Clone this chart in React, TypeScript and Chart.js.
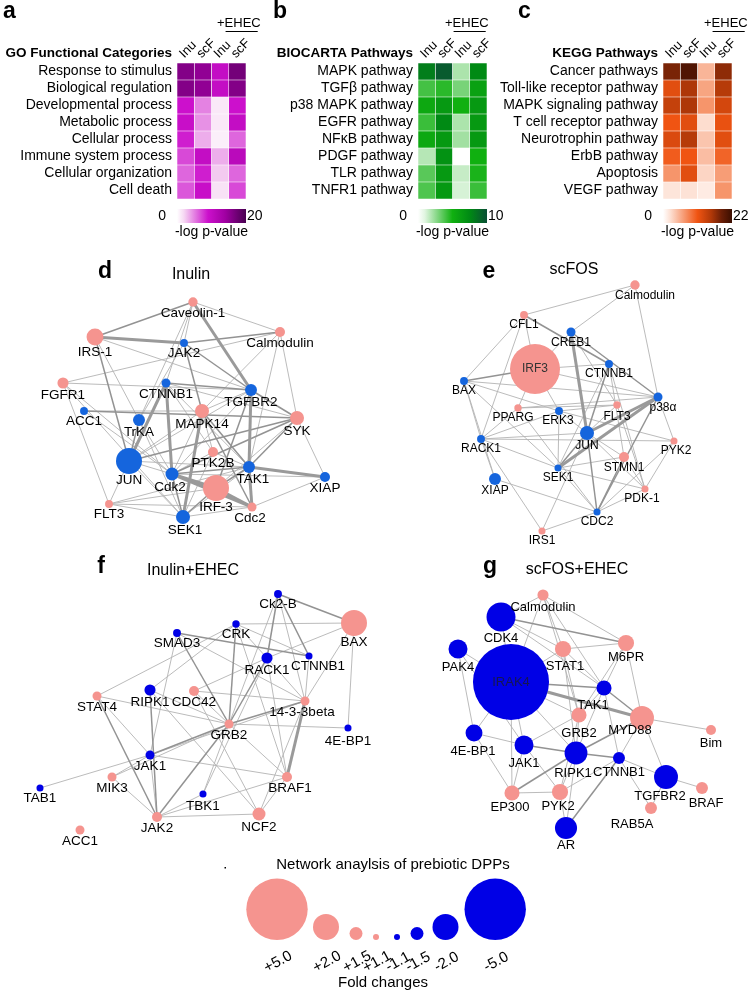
import React, { useEffect, useRef } from 'react';
import { Chart, registerables } from 'chart.js';

Chart.register(...registerables);

const FONT = "'Liberation Sans', Arial, Helvetica, sans-serif";
const PINK = '#f5948f';
const BLUE_LIGHT = '#1565dd';
const BLUE_DEEP = '#0000e6';

// ---------------- Heatmap data (-log p-value) ----------------
const heatColumns = ['Inu', 'scF', 'Inu', 'scF'];

const goCategories = ['Response to stimulus', 'Biological regulation', 'Developmental process', 'Metabolic process', 'Cellular process', 'Immune system process', 'Cellular organization', 'Cell death'];
const goInulin = [16, 16, 9, 9.5, 8.5, 7, 6, 6.5];
const goScFOS = [15, 15, 5, 4.5, 3.5, 10, 8.5, 9.5];
const goInulinEHEC = [10, 10, 1.2, 1.2, 0.8, 3.5, 2.5, 1.5];
const goScFOSEHEC = [17, 16, 9, 10, 6, 11, 6, 7];

const biocartaPathways = ['MAPK pathway', 'TGFβ pathway', 'p38 MAPK pathway', 'EGFR pathway', 'NFκB pathway', 'PDGF pathway', 'TLR pathway', 'TNFR1 pathway'];
const bioInulin = [8, 4, 5.5, 4.2, 5.5, 1.8, 3.6, 3.8];
const bioScFOS = [9.5, 4.5, 6.5, 7.5, 6.5, 7, 6.5, 6.5];
const bioInulinEHEC = [2, 3, 5, 2, 2.2, 0, 1.5, 1.2];
const bioScFOSEHEC = [7.5, 6, 6.5, 6.5, 6.5, 5, 4.8, 4.2];

const keggPathways = ['Cancer pathways', 'Toll-like receptor pathway', 'MAPK signaling pathway', 'T cell receptor pathway', 'Neurotrophin pathway', 'ErbB pathway', 'Apoptosis', 'VEGF pathway'];
const keggInulin = [18, 12, 14, 11, 12.5, 10.5, 7, 2];
const keggScFOS = [20.5, 15.5, 15.5, 12, 15, 11, 12, 2.2];
const keggInulinEHEC = [5, 6, 7, 2.5, 4, 4.5, 3, 1.5];
const keggScFOSEHEC = [17, 15, 13, 11.5, 12, 10, 6.5, 7];

const goMax = 20;
const bioMax = 10;
const keggMax = 22;

const magentaStops: [number, string][] = [[0, '#ffffff'], [0.1, '#f6d8f3'], [0.45, '#cc10cc'], [0.7, '#a000a2'], [1, '#480050']];
const greenStops: [number, string][] = [[0, '#ffffff'], [0.1, '#e0f5e0'], [0.5, '#10b010'], [0.75, '#008a14'], [1, '#0a4f35']];
const orangeStops: [number, string][] = [[0, '#ffffff'], [0.1, '#fde2d6'], [0.5, '#f05412'], [0.7, '#b03808'], [0.85, '#6a1e06'], [1, '#3a0e00']];

// ---------------- Network data: [name, layout x, layout y, fold change] ----------------
type NodeT = [string, number, number, number];
type EdgeT = [string, string, number];

const inulinNodes: NodeT[] = [
  ['Caveolin-1', 193, 52, 1.29], ['IRS-1', 95, 87, 1.65], ['JAK2', 184, 93, -1.21], ['Calmodulin', 280, 82, 1.33],
  ['FGFR1', 63, 133, 1.39], ['CTNNB1', 166, 133, -1.27], ['TGFBR2', 251, 140, -1.44], ['ACC1', 84, 161, -1.21],
  ['MAPK14', 202, 161, 1.54], ['TrKA', 139, 170, -1.44], ['SYK', 297, 168, 1.54], ['JUN', 129, 211, -2.0],
  ['PTK2B', 213, 202, 1.33], ['Cdk2', 172, 224, -1.5], ['TAK1', 249, 217, -1.44], ['IRF-3', 216, 238, 2.0],
  ['XIAP', 325, 227, -1.33], ['FLT3', 109, 254, 1.21], ['SEK1', 183, 267, -1.54], ['Cdc2', 252, 257, 1.27],
];
const inulinEdges: EdgeT[] = [
  ['Caveolin-1', 'IRS-1', 2], ['Caveolin-1', 'Calmodulin', 1], ['Caveolin-1', 'TGFBR2', 3], ['Caveolin-1', 'JAK2', 1],
  ['Caveolin-1', 'CTNNB1', 1], ['Caveolin-1', 'TrKA', 1], ['IRS-1', 'JAK2', 3], ['JAK2', 'Calmodulin', 2],
  ['IRS-1', 'JUN', 2], ['IRS-1', 'TGFBR2', 1], ['IRS-1', 'TrKA', 1], ['JAK2', 'TGFBR2', 2], ['JAK2', 'MAPK14', 2],
  ['JAK2', 'TrKA', 1], ['Calmodulin', 'SYK', 1], ['Calmodulin', 'TAK1', 1], ['Calmodulin', 'MAPK14', 1],
  ['FGFR1', 'Calmodulin', 1], ['FGFR1', 'TGFBR2', 1], ['FGFR1', 'SEK1', 1], ['FGFR1', 'FLT3', 1], ['FGFR1', 'Cdk2', 1],
  ['CTNNB1', 'TGFBR2', 2], ['CTNNB1', 'JUN', 3], ['CTNNB1', 'Cdk2', 3], ['CTNNB1', 'PTK2B', 1], ['CTNNB1', 'TAK1', 1],
  ['CTNNB1', 'SYK', 1], ['ACC1', 'MAPK14', 1], ['ACC1', 'SYK', 2], ['ACC1', 'Cdk2', 1], ['TGFBR2', 'TAK1', 3],
  ['TGFBR2', 'SYK', 2], ['TGFBR2', 'MAPK14', 1], ['TGFBR2', 'Cdk2', 1], ['TGFBR2', 'JUN', 1], ['TGFBR2', 'IRF-3', 2],
  ['MAPK14', 'SEK1', 3], ['MAPK14', 'JUN', 1], ['MAPK14', 'TAK1', 2], ['MAPK14', 'Cdc2', 2], ['MAPK14', 'Cdk2', 1],
  ['MAPK14', 'PTK2B', 1], ['SYK', 'JUN', 2], ['SYK', 'Cdk2', 2], ['SYK', 'XIAP', 1], ['SYK', 'TAK1', 2], ['SYK', 'IRF-3', 1],
  ['TrKA', 'JUN', 2], ['TrKA', 'SEK1', 1], ['TrKA', 'Cdk2', 1], ['JUN', 'Cdk2', 1], ['JUN', 'FLT3', 1], ['JUN', 'TAK1', 1],
  ['JUN', 'SEK1', 1], ['PTK2B', 'Cdk2', 1], ['PTK2B', 'TAK1', 1], ['PTK2B', 'SEK1', 1], ['Cdk2', 'IRF-3', 3],
  ['Cdk2', 'Cdc2', 3], ['Cdk2', 'TAK1', 2], ['Cdk2', 'SEK1', 2], ['Cdk2', 'XIAP', 1], ['TAK1', 'XIAP', 3],
  ['TAK1', 'IRF-3', 2], ['TAK1', 'Cdc2', 3], ['TAK1', 'SEK1', 1], ['IRF-3', 'SEK1', 2], ['IRF-3', 'Cdc2', 3],
  ['IRF-3', 'FLT3', 1], ['XIAP', 'Cdc2', 1], ['FLT3', 'SEK1', 1], ['FLT3', 'Cdc2', 1], ['FLT3', 'TAK1', 1], ['SEK1', 'Cdc2', 1],
];

const scfosNodes: NodeT[] = [
  ['Calmodulin', 260, 35, 1.29], ['CFL1', 149, 65, 1.21], ['CREB1', 196, 82, -1.27], ['IRF3', 160, 119, 4.03],
  ['CTNNB1', 234, 114, -1.21], ['BAX', 89, 131, -1.21], ['p38α', 283, 147, -1.27], ['PPARG', 143, 158, 1.18],
  ['FLT3', 242, 155, 1.18], ['ERK3', 184, 161, -1.21], ['JUN', 212, 183, -1.54], ['RACK1', 106, 189, -1.21],
  ['PYK2', 299, 191, 1.16], ['STMN1', 249, 207, 1.33], ['SEK1', 183, 218, -1.16], ['XIAP', 120, 229, -1.44],
  ['PDK-1', 270, 239, 1.16], ['CDC2', 222, 262, -1.16], ['IRS1', 167, 281, 1.16],
];
const scfosEdges: EdgeT[] = [
  ['Calmodulin', 'CFL1', 1], ['Calmodulin', 'CREB1', 1], ['Calmodulin', 'p38α', 1], ['CFL1', 'IRF3', 1],
  ['CFL1', 'CTNNB1', 2], ['CFL1', 'BAX', 1], ['CFL1', 'RACK1', 1], ['CREB1', 'JUN', 3], ['CREB1', 'IRF3', 1],
  ['CREB1', 'p38α', 2], ['CREB1', 'FLT3', 1], ['IRF3', 'BAX', 2], ['IRF3', 'CTNNB1', 1], ['IRF3', 'ERK3', 1],
  ['IRF3', 'PPARG', 1], ['IRF3', 'p38α', 1], ['CTNNB1', 'JUN', 2], ['CTNNB1', 'STMN1', 1], ['CTNNB1', 'PDK-1', 1],
  ['CTNNB1', 'SEK1', 1], ['BAX', 'RACK1', 1], ['BAX', 'XIAP', 1], ['BAX', 'p38α', 1], ['BAX', 'SEK1', 1], ['BAX', 'ERK3', 1],
  ['p38α', 'JUN', 3], ['p38α', 'SEK1', 3], ['p38α', 'PPARG', 1], ['p38α', 'CDC2', 2], ['p38α', 'PYK2', 1],
  ['PPARG', 'FLT3', 1], ['PPARG', 'RACK1', 1], ['PPARG', 'CDC2', 1], ['FLT3', 'JUN', 1], ['FLT3', 'PDK-1', 1],
  ['FLT3', 'ERK3', 1], ['ERK3', 'JUN', 1], ['ERK3', 'SEK1', 1], ['ERK3', 'RACK1', 1], ['ERK3', 'PYK2', 1],
  ['JUN', 'SEK1', 2], ['JUN', 'CDC2', 2], ['JUN', 'STMN1', 1], ['JUN', 'RACK1', 1], ['JUN', 'PDK-1', 1], ['JUN', 'IRS1', 1],
  ['RACK1', 'XIAP', 1], ['RACK1', 'SEK1', 1], ['RACK1', 'IRS1', 1], ['RACK1', 'PYK2', 1], ['STMN1', 'PDK-1', 1],
  ['STMN1', 'SEK1', 1], ['STMN1', 'CDC2', 2], ['SEK1', 'CDC2', 1], ['SEK1', 'PDK-1', 1], ['XIAP', 'CDC2', 1],
  ['PYK2', 'PDK-1', 1], ['PYK2', 'CDC2', 1], ['PDK-1', 'CDC2', 1], ['CDC2', 'IRS1', 1],
];

const inulinEhecNodes: NodeT[] = [
  ['Ck2-B', 278, 44, -1.21], ['CRK', 236, 74, -1.18], ['BAX', 354, 73, 2.0], ['SMAD3', 177, 83, -1.21],
  ['RACK1', 267, 108, -1.39], ['CTNNB1', 309, 106, -1.16], ['RIPK1', 150, 140, -1.39], ['CDC42', 194, 141, 1.33],
  ['STAT4', 97, 146, 1.27], ['14-3-3beta', 305, 151, 1.27], ['GRB2', 229, 174, 1.27], ['4E-BP1', 348, 178, -1.16],
  ['JAK1', 150, 205, -1.27], ['MIK3', 112, 227, 1.27], ['BRAF1', 287, 227, 1.33], ['TBK1', 203, 244, -1.16],
  ['TAB1', 40, 238, -1.16], ['JAK2', 157, 267, 1.33], ['NCF2', 259, 264, 1.5], ['ACC1', 80, 280, 1.27],
];
const inulinEhecEdges: EdgeT[] = [
  ['Ck2-B', 'BAX', 2], ['Ck2-B', 'RACK1', 2], ['Ck2-B', 'CTNNB1', 2], ['Ck2-B', 'GRB2', 1], ['Ck2-B', '14-3-3beta', 1],
  ['CRK', 'BAX', 1], ['CRK', 'GRB2', 2], ['CRK', 'RACK1', 1], ['CRK', 'CTNNB1', 1], ['CRK', 'BRAF1', 1], ['CRK', 'RIPK1', 1],
  ['SMAD3', 'CTNNB1', 2], ['SMAD3', '14-3-3beta', 1], ['SMAD3', 'GRB2', 2], ['SMAD3', 'JAK1', 1],
  ['BAX', '14-3-3beta', 1], ['BAX', '4E-BP1', 1], ['BAX', 'RACK1', 1], ['RACK1', 'GRB2', 2], ['RACK1', '14-3-3beta', 1],
  ['RACK1', 'CDC42', 1], ['RACK1', 'TBK1', 1], ['RACK1', 'BRAF1', 1], ['CTNNB1', '14-3-3beta', 1],
  ['RIPK1', 'GRB2', 1], ['RIPK1', 'JAK2', 2], ['RIPK1', 'NCF2', 1], ['CDC42', 'GRB2', 1], ['CDC42', '14-3-3beta', 1],
  ['CDC42', 'NCF2', 1], ['STAT4', 'CRK', 1], ['STAT4', 'GRB2', 1], ['STAT4', 'JAK2', 2], ['STAT4', 'JAK1', 1],
  ['14-3-3beta', 'GRB2', 2], ['14-3-3beta', 'BRAF1', 3], ['14-3-3beta', 'JAK1', 1], ['14-3-3beta', 'NCF2', 1],
  ['GRB2', 'JAK1', 2], ['GRB2', 'JAK2', 2], ['GRB2', 'TBK1', 1], ['GRB2', 'BRAF1', 1], ['GRB2', 'MIK3', 1], ['GRB2', '4E-BP1', 1],
  ['JAK1', 'MIK3', 1], ['JAK1', 'TAB1', 1], ['JAK1', 'JAK2', 1], ['JAK1', 'BRAF1', 1], ['MIK3', 'JAK2', 1],
  ['BRAF1', 'JAK2', 1], ['BRAF1', 'NCF2', 1], ['TBK1', 'JAK2', 1], ['JAK2', 'NCF2', 1],
];

const scfosEhecNodes: NodeT[] = [
  ['Calmodulin', 168, 45, 1.39], ['CDK4', 126, 67, -2.25], ['PAK4', 83, 99, -1.73], ['M6PR', 251, 93, 1.62],
  ['STAT1', 188, 99, 1.62], ['IRAK4', 136, 132, -6.24], ['TAK1', 229, 138, -1.58], ['MYD88', 267, 168, 1.92],
  ['GRB2', 204, 165, 1.58], ['4E-BP1', 99, 183, -1.65], ['JAK1', 149, 195, -1.73], ['RIPK1', 201, 203, -1.88],
  ['CTNNB1', 244, 208, -1.44], ['TGFBR2', 291, 227, -1.92], ['Bim', 336, 180, 1.33], ['BRAF', 327, 238, 1.44],
  ['EP300', 137, 243, 1.58], ['PYK2', 185, 242, 1.62], ['RAB5A', 276, 258, 1.44], ['AR', 191, 278, -1.85],
];
const scfosEhecEdges: EdgeT[] = [
  ['Calmodulin', 'STAT1', 1], ['Calmodulin', 'TAK1', 1], ['Calmodulin', 'GRB2', 1], ['Calmodulin', 'CDK4', 1],
  ['Calmodulin', 'IRAK4', 1], ['Calmodulin', 'M6PR', 1], ['CDK4', 'M6PR', 2], ['CDK4', 'STAT1', 1], ['CDK4', 'IRAK4', 1],
  ['CDK4', 'TAK1', 1], ['PAK4', 'IRAK4', 1], ['PAK4', '4E-BP1', 1], ['PAK4', 'JAK1', 1], ['M6PR', 'TAK1', 1],
  ['M6PR', 'MYD88', 1], ['M6PR', 'STAT1', 1], ['M6PR', 'GRB2', 1], ['STAT1', 'TAK1', 1], ['STAT1', 'GRB2', 1],
  ['STAT1', 'IRAK4', 1], ['STAT1', 'RIPK1', 1], ['IRAK4', 'TAK1', 2], ['IRAK4', 'MYD88', 3], ['IRAK4', 'GRB2', 1],
  ['IRAK4', 'JAK1', 1], ['IRAK4', '4E-BP1', 1], ['IRAK4', 'RIPK1', 1], ['IRAK4', 'EP300', 1], ['TAK1', 'MYD88', 2],
  ['TAK1', 'GRB2', 1], ['TAK1', 'CTNNB1', 1], ['TAK1', 'RIPK1', 1], ['MYD88', 'RIPK1', 2], ['MYD88', 'CTNNB1', 1],
  ['MYD88', 'TGFBR2', 1], ['MYD88', 'Bim', 1], ['GRB2', 'JAK1', 1], ['GRB2', 'RIPK1', 1], ['GRB2', 'PYK2', 1],
  ['4E-BP1', 'JAK1', 1], ['4E-BP1', 'EP300', 1], ['JAK1', 'RIPK1', 2], ['JAK1', 'EP300', 1], ['JAK1', 'PYK2', 1],
  ['RIPK1', 'CTNNB1', 2], ['RIPK1', 'EP300', 2], ['RIPK1', 'PYK2', 1], ['RIPK1', 'AR', 1], ['CTNNB1', 'TGFBR2', 1],
  ['CTNNB1', 'PYK2', 1], ['CTNNB1', 'AR', 2], ['CTNNB1', 'RAB5A', 1], ['TGFBR2', 'BRAF', 1], ['TGFBR2', 'RAB5A', 1],
  ['EP300', 'PYK2', 1], ['PYK2', 'AR', 1],
];

// ---------------- Legend data ----------------
const legendFold = [5, 2, 1.5, 1.1, -1.1, -1.5, -2, -5];

// radius scale (fold-change magnitude -> node radius in px), as keyed in the legend
const sizeKeyFold = [1.1, 1.5, 2, 5];
const sizeKeyRadius = [3, 6.5, 13, 30.7];

function radiusFor(fc: number) {
  const a = Math.abs(fc);
  if (a <= sizeKeyFold[0]) return sizeKeyRadius[0] * a / sizeKeyFold[0];
  for (let i = 1; i < sizeKeyFold.length; i++) {
    if (a <= sizeKeyFold[i] || i === sizeKeyFold.length - 1) {
      const f = (a - sizeKeyFold[i - 1]) / (sizeKeyFold[i] - sizeKeyFold[i - 1]);
      return sizeKeyRadius[i - 1] + f * (sizeKeyRadius[i] - sizeKeyRadius[i - 1]);
    }
  }
  return sizeKeyRadius[sizeKeyRadius.length - 1];
}

function hexRgb(h: string) {
  const n = parseInt(h.slice(1), 16);
  return [(n >> 16) & 255, (n >> 8) & 255, n & 255];
}
function colorAt(stops: [number, string][], t: number) {
  t = Math.max(0, Math.min(1, t));
  for (let i = 1; i < stops.length; i++) {
    if (t <= stops[i][0]) {
      const [t0, c0] = stops[i - 1];
      const [t1, c1] = stops[i];
      const f = (t - t0) / (t1 - t0 || 1);
      const a = hexRgb(c0), b = hexRgb(c1);
      return `rgb(${Math.round(a[0] + (b[0] - a[0]) * f)},${Math.round(a[1] + (b[1] - a[1]) * f)},${Math.round(a[2] + (b[2] - a[2]) * f)})`;
    }
  }
  return stops[stops.length - 1][1];
}

function drawText(ctx: any, s: string, x: number, y: number, font: string, align = 'center', baseline = 'middle', color = '#000') {
  ctx.save();
  ctx.font = font;
  ctx.textAlign = align;
  ctx.textBaseline = baseline;
  ctx.fillStyle = color;
  ctx.fillText(s, x, y);
  ctx.restore();
}

// ---------------- Heatmap component ----------------
function Heatmap(p: any) {
  const ref = useRef<HTMLCanvasElement>(null);
  useEffect(() => {
    const canvas = ref.current!;
    const plugin = {
      id: 'heatText' + p.letter,
      afterDraw(chart: any) {
        const { ctx, chartArea: ca, scales } = chart;
        const xs = scales.x, ys = scales.y;
        drawText(ctx, p.letter, p.letterX, 18, `bold 23px ${FONT}`, 'left', 'alphabetic');
        drawText(ctx, p.title, ca.left - 5, 56.5, `bold 13.5px ${FONT}`, 'right', 'alphabetic');
        p.rows.forEach((r: string, i: number) => {
          drawText(ctx, r, ca.left - 5, ys.getPixelForValue(i), `14px ${FONT}`, 'right', 'middle');
        });
        heatColumns.forEach((c, j) => {
          const cx = xs.getPixelForValue(j + 0.5);
          ctx.save();
          ctx.translate(cx - 4, ca.top - 7);
          ctx.rotate(-Math.PI / 4);
          ctx.font = `13px ${FONT}`;
          ctx.textAlign = 'left';
          ctx.textBaseline = 'middle';
          ctx.fillStyle = '#000';
          ctx.fillText(c, 0, 0);
          ctx.restore();
        });
        // +EHEC with underline
        ctx.save();
        ctx.font = `13px ${FONT}`;
        const ex = p.ehecX;
        drawText(ctx, '+EHEC', ex, 27, `13px ${FONT}`, 'left', 'alphabetic');
        const pw = ctx.measureText('+').width;
        const tw = ctx.measureText('+EHEC').width;
        ctx.strokeStyle = '#000';
        ctx.lineWidth = 1;
        ctx.beginPath();
        ctx.moveTo(ex + pw + 1, 31.5);
        ctx.lineTo(ex + tw - 3, 31.5);
        ctx.stroke();
        ctx.restore();
        // colour bar
        const cbTop = 209, cbH = 14;
        const g = ctx.createLinearGradient(ca.left, 0, ca.right, 0);
        p.stops.forEach(([t, c]: [number, string]) => g.addColorStop(t, c));
        ctx.save();
        ctx.fillStyle = g;
        ctx.fillRect(ca.left, cbTop, ca.right - ca.left, cbH);
        ctx.restore();
        drawText(ctx, '0', ca.left - 11, cbTop + cbH / 2, `14px ${FONT}`, 'right', 'middle');
        drawText(ctx, String(p.max), ca.right + 1, cbTop + cbH / 2, `14px ${FONT}`, 'left', 'middle');
        drawText(ctx, '-log p-value', (ca.left + ca.right) / 2, 232, `14px ${FONT}`, 'center', 'middle');
      },
    };
    const chart = new Chart(canvas, {
      type: 'bar',
      data: {
        labels: p.rows,
        datasets: p.columns.map((vals: number[], j: number) => ({
          data: p.rows.map(() => [j, j + 1]),
          backgroundColor: vals.map((v) => colorAt(p.stops, v / p.max)),
          borderColor: 'rgba(255,255,255,0.85)',
          borderWidth: 0.6,
          borderSkipped: false,
          barPercentage: 1,
          categoryPercentage: 1,
          grouped: false,
        })),
      },
      options: {
        indexAxis: 'y',
        animation: false,
        responsive: false,
        events: [],
        layout: { autoPadding: false, padding: { left: p.padLeft, right: p.width - p.padLeft - p.cellsWidth, top: 63, bottom: p.height - 199 } },
        scales: {
          x: { type: 'linear', display: false, min: 0, max: 4 },
          y: { type: 'category', display: false },
        },
        plugins: { legend: { display: false }, tooltip: { enabled: false } },
      } as any,
      plugins: [plugin],
    } as any);
    return () => chart.destroy();
  }, []);
  return (
    <canvas ref={ref} width={p.width} height={p.height}
      style={{ position: 'absolute', left: p.left, top: p.top, width: p.width, height: p.height }} />
  );
}

// ---------------- Network component ----------------
function edgeWidth(w: number) { return w === 3 ? 3 : w === 2 ? 1.5 : 0.9; }
function edgeColor(w: number) { return w === 3 ? '#9a9a9a' : w === 2 ? '#939393' : '#b3b3b3'; }

function Network(p: any) {
  const ref = useRef<HTMLCanvasElement>(null);
  useEffect(() => {
    const canvas = ref.current!;
    const byName = new Map<string, NodeT>(p.nodes.map((n: NodeT) => [n[0], n]));
    const edgeSets = p.edges.map(([a, b, w]: EdgeT) => {
      const na = byName.get(a)!, nb = byName.get(b)!;
      return {
        data: [{ x: na[1], y: na[2] }, { x: nb[1], y: nb[2] }],
        showLine: true,
        borderColor: edgeColor(w),
        borderWidth: edgeWidth(w),
        pointRadius: 0,
        clip: false,
        order: 4 - w,
      };
    });
    const nodeSet = {
      data: p.nodes.map((n: NodeT) => ({ x: n[1], y: n[2] })),
      pointRadius: p.nodes.map((n: NodeT) => radiusFor(n[3])),
      pointBackgroundColor: p.nodes.map((n: NodeT) => (n[3] > 0 ? PINK : p.blue)),
      pointBorderWidth: 0,
      showLine: false,
      clip: false,
      order: 0,
    };
    const plugin = {
      id: 'netText',
      afterDatasetsDraw(chart: any) {
        const { ctx, scales } = chart;
        p.nodes.forEach((n: NodeT) => {
          const px = scales.x.getPixelForValue(n[1]);
          const py = scales.y.getPixelForValue(n[2]);
          const r = radiusFor(n[3]);
          if (r > 20) {
            drawText(ctx, n[0], px, py, `${p.fontSize}px ${FONT}`, 'center', 'middle', p.innerColor);
          } else {
            const nd = (p.nudge && p.nudge[n[0]]) || [0, 0];
            drawText(ctx, n[0], px + nd[0], py + r + p.labelGap + nd[1], `${p.fontSize}px ${FONT}`, 'center', 'middle');
          }
        });
        drawText(ctx, p.letter, p.letterPos[0], p.letterPos[1], `bold 23px ${FONT}`, 'center', 'alphabetic');
        drawText(ctx, p.title, p.titlePos[0], p.titlePos[1], `16px ${FONT}`, 'center', 'alphabetic');
      },
    };
    const chart = new Chart(canvas, {
      type: 'scatter',
      data: { datasets: [nodeSet, ...edgeSets] },
      options: {
        animation: false,
        responsive: false,
        events: [],
        layout: { autoPadding: false, padding: 0 },
        scales: {
          x: { type: 'linear', display: false, min: 0, max: p.width },
          y: { type: 'linear', display: false, min: 0, max: p.height, reverse: true },
        },
        plugins: { legend: { display: false }, tooltip: { enabled: false } },
      } as any,
      plugins: [plugin],
    } as any);
    return () => chart.destroy();
  }, []);
  return (
    <canvas ref={ref} width={p.width} height={p.height}
      style={{ position: 'absolute', left: p.left, top: p.top, width: p.width, height: p.height }} />
  );
}

// ---------------- Size legend ----------------
function SizeLegend() {
  const ref = useRef<HTMLCanvasElement>(null);
  useEffect(() => {
    const canvas = ref.current!;
    const W = 751, H = 152;
    const gaps = [5.3, 10.5, 10.5, 15, 10.5, 9, 6];
    const radii = legendFold.map(radiusFor);
    const xs: number[] = [];
    radii.forEach((r, i) => {
      if (i === 0) xs.push(277);
      else xs.push(xs[i - 1] + radii[i - 1] + gaps[i - 1] + r);
    });
    const baseLine = 100;
    const labels = legendFold.map((v) => (v > 0 ? '+' : '') + v.toFixed(1));
    const plugin = {
      id: 'legendText',
      afterDatasetsDraw(chart: any) {
        const { ctx, scales } = chart;
        drawText(ctx, 'Network anaylsis of prebiotic DPPs', 393, 25, `15px ${FONT}`, 'center', 'middle');
        ctx.save();
        ctx.fillStyle = '#000';
        ctx.fillRect(224.5, 27, 1.5, 1.5);
        ctx.restore();
        labels.forEach((l, i) => {
          const px = scales.x.getPixelForValue(xs[i]);
          ctx.save();
          ctx.translate(px + 1, 122);
          ctx.rotate(-Math.PI / 6.3);
          ctx.font = `15px ${FONT}`;
          ctx.textAlign = 'center';
          ctx.textBaseline = 'middle';
          ctx.fillStyle = '#000';
          ctx.fillText(l, 0, 0);
          ctx.restore();
        });
        drawText(ctx, 'Fold changes', 383, 143, `15px ${FONT}`, 'center', 'middle');
      },
    };
    const chart = new Chart(canvas, {
      type: 'scatter',
      data: {
        datasets: [{
          data: legendFold.map((v, i) => ({ x: xs[i], y: baseLine - radii[i] })),
          pointRadius: radii,
          pointBackgroundColor: legendFold.map((v) => (v > 0 ? PINK : BLUE_DEEP)),
          pointBorderWidth: 0,
          clip: false,
        }],
      },
      options: {
        animation: false,
        responsive: false,
        events: [],
        layout: { autoPadding: false, padding: 0 },
        scales: {
          x: { type: 'linear', display: false, min: 0, max: W },
          y: { type: 'linear', display: false, min: 0, max: H, reverse: true },
        },
        plugins: { legend: { display: false }, tooltip: { enabled: false } },
      } as any,
      plugins: [plugin],
    } as any);
    return () => chart.destroy();
  }, []);
  return (
    <canvas ref={ref} width={751} height={152}
      style={{ position: 'absolute', left: 0, top: 840, width: 751, height: 152 }} />
  );
}

export default function App() {
  return (
    <div style={{ position: 'absolute', left: 0, top: 0, width: 751, height: 992, background: '#fff', overflow: 'hidden' }}>
      <Heatmap left={0} top={0} width={270} height={245} padLeft={177} cellsWidth={69}
        letter="a" letterX={3} title="GO Functional Categories" rows={goCategories}
        columns={[goInulin, goScFOS, goInulinEHEC, goScFOSEHEC]} max={goMax} stops={magentaStops} ehecX={217} />
      <Heatmap left={250} top={0} width={270} height={245} padLeft={168} cellsWidth={69}
        letter="b" letterX={23} title="BIOCARTA Pathways" rows={biocartaPathways}
        columns={[bioInulin, bioScFOS, bioInulinEHEC, bioScFOSEHEC]} max={bioMax} stops={greenStops} ehecX={195} />
      <Heatmap left={500} top={0} width={251} height={245} padLeft={163} cellsWidth={69}
        letter="c" letterX={18} title="KEGG Pathways" rows={keggPathways}
        columns={[keggInulin, keggScFOS, keggInulinEHEC, keggScFOSEHEC]} max={keggMax} stops={orangeStops} ehecX={204} />

      <Network left={0} top={250} width={375} height={300} nodes={inulinNodes} edges={inulinEdges}
        letter="d" letterPos={[105, 28]} title="Inulin" titlePos={[191, 29]} blue={BLUE_LIGHT}
        fontSize={13.5} labelGap={6.5} innerColor="#222"
        nudge={{ Cdk2: [-2, 0], TAK1: [4, 0], SEK1: [2, 0], Cdc2: [-2, 0] }} />
      <Network left={375} top={250} width={376} height={300} nodes={scfosNodes} edges={scfosEdges}
        letter="e" letterPos={[114, 28]} title="scFOS" titlePos={[199, 24]} blue={BLUE_LIGHT}
        fontSize={12} labelGap={6} innerColor="#333"
        nudge={{ Calmodulin: [10, 0], 'p38α': [5, 0], PPARG: [-5, 0], PYK2: [2, 0], 'PDK-1': [-3, 0], FLT3: [0, 2], ERK3: [-1, 0] }} />
      <Network left={0} top={550} width={375} height={300} nodes={inulinEhecNodes} edges={inulinEhecEdges}
        letter="f" letterPos={[101, 23]} title="Inulin+EHEC" titlePos={[193, 25]} blue={BLUE_DEEP}
        fontSize={13.5} labelGap={6.5} innerColor="#222"
        nudge={{ CTNNB1: [9, 0], '14-3-3beta': [-3, 0], '4E-BP1': [0, 3], BRAF1: [3, 0], TBK1: [0, 2] }} />
      <Network left={375} top={550} width={376} height={300} nodes={scfosEhecNodes} edges={scfosEhecEdges}
        letter="g" letterPos={[115, 23]} title="scFOS+EHEC" titlePos={[202, 24]} blue={BLUE_DEEP}
        fontSize={13} labelGap={6.5} innerColor="#161650"
        nudge={{ TAK1: [-11, 3], STAT1: [2, 3], PAK4: [0, 2], GRB2: [0, 4], '4E-BP1': [-1, 3], JAK1: [0, 2], RIPK1: [-3, 2], CTNNB1: [0, 2], MYD88: [-12, -6], RAB5A: [-19, 4], TGFBR2: [-6, 1], EP300: [-2, 0], PYK2: [-2, 0], Bim: [0, 2], BRAF: [4, 3] }} />

      <SizeLegend />
    </div>
  );
}
